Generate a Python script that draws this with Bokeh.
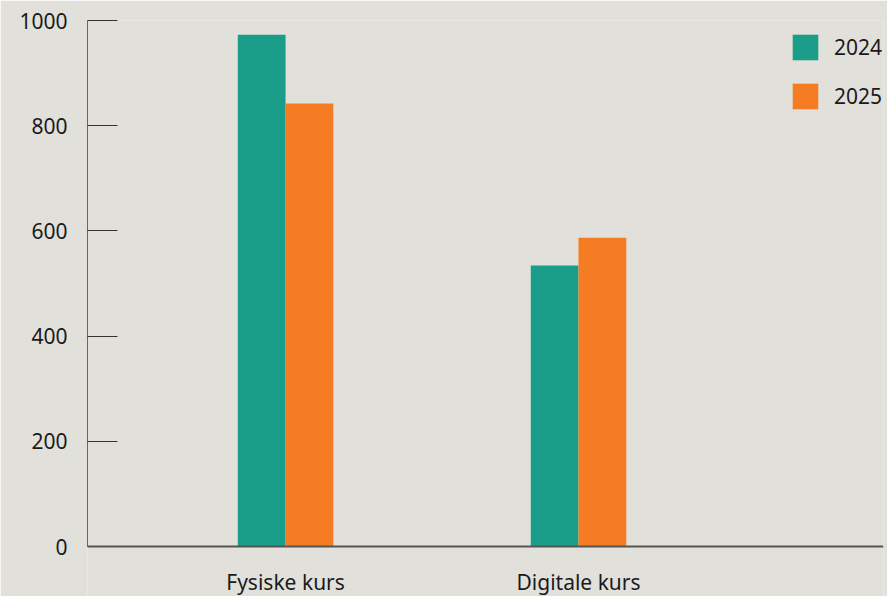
from bokeh.plotting import figure
from bokeh.models import ColumnDataSource, Range1d, FixedTicker, Legend, LegendItem, Label, Span
from bokeh.transform import dodge
from bokeh.embed import file_html
from bokeh.resources import INLINE

categories = ["Fysiske kurs", "Digitale kurs"]
values_2024 = [973, 534]
values_2025 = [842, 587]
y_ticks = [0, 200, 400, 600, 800, 1000]

FONT = "Noto Sans"
TEAL = "#1A9E8A"
ORANGE = "#F57C22"
BG = "#E2E0DB"

src = ColumnDataSource(dict(x=list(range(len(categories))), v24=values_2024, v25=values_2025))

# the frame reaches to the bottom of the figure so that the category
# labels (drawn below the zero line) are not clipped
p = figure(width=887, height=596, output_backend="svg", toolbar_location=None,
           x_range=Range1d(-0.676, 2.041), y_range=Range1d(-1000 * 50 / 526, 1000),
           min_border_left=87, min_border_top=20, min_border_bottom=0, min_border_right=4)
p.background_fill_color = BG
p.border_fill_color = BG
p.outline_line_color = None
p.grid.visible = False

w = 0.163
r1 = p.vbar(x=dodge("x", -w / 2, range=p.x_range), top="v24", width=w, source=src,
            fill_color=TEAL, line_color=None)
r2 = p.vbar(x=dodge("x", w / 2, range=p.x_range), top="v25", width=w, source=src,
            fill_color=ORANGE, line_color=None)

# y axis
p.yaxis.ticker = FixedTicker(ticks=y_ticks)
p.yaxis.bounds = (0, 1000)
p.yaxis.major_tick_in = 30
p.yaxis.major_tick_out = 0
p.yaxis.minor_tick_line_color = None
p.yaxis.axis_line_color = "#666666"
p.yaxis.major_tick_line_color = "#333333"
p.yaxis.major_label_standoff = 20
p.yaxis.major_label_text_font = FONT
p.yaxis.major_label_text_font_size = "21px"
p.yaxis.major_label_text_color = "#1a1a1a"

# x axis: baseline line at zero plus category labels
p.xaxis.visible = False
p.add_layout(Span(location=0, dimension="width", line_color="#555555", line_width=2))
for i, cat in enumerate(categories):
    p.add_layout(Label(x=i, y=0, y_offset=-35, text=cat,
                       text_align="center", text_baseline="alphabetic",
                       text_font=FONT, text_font_size="21px", text_color="#1a1a1a"))

legend = Legend(items=[LegendItem(label="2024", renderers=[r1]),
                       LegendItem(label="2025", renderers=[r2])],
                location=(702, 484))
legend.glyph_width = 32
legend.glyph_height = 32
legend.label_standoff = 13
legend.spacing = 17
legend.padding = 0
legend.margin = 0
legend.border_line_color = None
legend.background_fill_alpha = 0
legend.label_text_font = FONT
legend.label_text_font_size = "21px"
legend.label_text_color = "#1a1a1a"
p.add_layout(legend, "center")

open("out.html", "w").write(file_html(p, INLINE))
